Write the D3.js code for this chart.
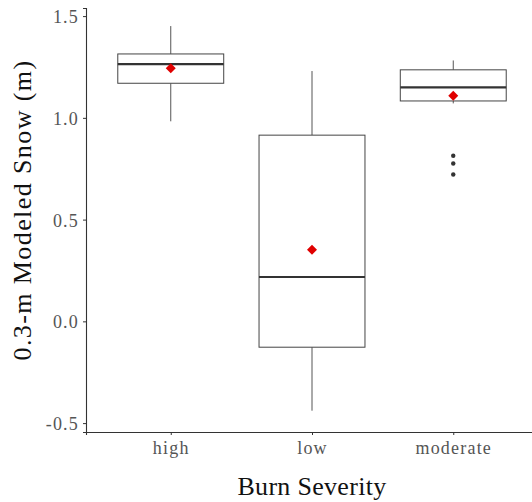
<!DOCTYPE html>
<html>
<head>
<meta charset="utf-8">
<script src="https://cdn.jsdelivr.net/npm/d3@7"></script>
<style>
  body { margin: 0; background: #fff; }
  svg { display: block; }
  .tick text { font-family: "Liberation Serif", serif; font-size: 18px; fill: #555; letter-spacing: 1.2px; }
  .axis-title { font-family: "Liberation Serif", serif; font-size: 26px; fill: #111; }
</style>
</head>
<body>
<script>
const WIDTH = 532;
const HEIGHT = 502;

// Data
const categories = ["high", "low", "moderate"];
const q1 = [1.170, -0.127, 1.083];
const median = [1.264, 0.218, 1.150];
const q3 = [1.314, 0.915, 1.236];
const whiskerLow = [0.983, -0.439, 1.071];
const whiskerHigh = [1.451, 1.230, 1.282];
const means = [1.244, 0.352, 1.109];
const outliers = [[], [], [0.814, 0.776, 0.722]];
const yTicks = [-0.5, 0.0, 0.5, 1.0, 1.5];

const margin = { top: 8, right: -6, bottom: 70, left: 86 };
const width = WIDTH - margin.left - margin.right;
const height = HEIGHT - margin.top - margin.bottom;

const svg = d3.select("body").append("svg")
    .attr("width", WIDTH)
    .attr("height", HEIGHT);

const g = svg.append("g")
    .attr("transform", `translate(${margin.left},${margin.top})`);

const x = d3.scalePoint()
    .domain(categories)
    .range([0, width])
    .padding(0.6);

const y = d3.scaleLinear()
    .domain([-0.5437, 1.5398])
    .range([height, 0]);

const step = x.step();
const BOXW = step * 0.75;

const stats = categories.map((c, i) => ({
    cat: c, q1: q1[i], median: median[i], q3: q3[i],
    lo: whiskerLow[i], hi: whiskerHigh[i], mean: means[i], out: outliers[i]
}));

// Axes
const xAxis = g.append("g")
    .attr("transform", `translate(0,${height})`)
    .call(d3.axisBottom(x).tickSize(3).tickPadding(6));
xAxis.select(".domain").attr("stroke", "#333").attr("stroke-width", 1.1);
xAxis.selectAll(".tick line").attr("stroke", "#333");
xAxis.selectAll(".tick text").attr("y", 22).attr("dy", 0);

const yAxis = g.append("g")
    .call(d3.axisLeft(y).tickValues(yTicks).tickFormat(d => d.toFixed(1)).tickSize(3).tickPadding(4));
yAxis.select(".domain").attr("stroke", "#333").attr("stroke-width", 1.1);
yAxis.selectAll(".tick line").attr("stroke", "#333");
yAxis.selectAll(".tick text").attr("dy", "0.36em");

const boxes = g.selectAll(".boxplot")
    .data(stats)
    .enter().append("g")
    .attr("class", "boxplot")
    .attr("transform", d => `translate(${x(d.cat)},0)`);

// Whiskers
boxes.append("line")
    .attr("y1", d => y(d.q3)).attr("y2", d => y(d.hi))
    .attr("stroke", "#555").attr("stroke-width", 1);
boxes.append("line")
    .attr("y1", d => y(d.q1)).attr("y2", d => y(d.lo))
    .attr("stroke", "#555").attr("stroke-width", 1);

// Box
boxes.append("rect")
    .attr("x", -BOXW / 2)
    .attr("width", BOXW)
    .attr("y", d => y(d.q3))
    .attr("height", d => y(d.q1) - y(d.q3))
    .attr("fill", "#fff")
    .attr("stroke", "#444")
    .attr("stroke-width", 1);

// Median
boxes.append("line")
    .attr("x1", -BOXW / 2).attr("x2", BOXW / 2)
    .attr("y1", d => y(d.median)).attr("y2", d => y(d.median))
    .attr("stroke", "#333").attr("stroke-width", 2.2);

// Outliers
boxes.selectAll(".outlier")
    .data(d => d.out)
    .enter().append("circle")
    .attr("class", "outlier")
    .attr("cx", 0)
    .attr("cy", d => y(d))
    .attr("r", 2.2)
    .attr("fill", "#333");

// Mean diamonds
boxes.append("path")
    .attr("d", d3.symbol(d3.symbolDiamond2, 64))
    .attr("transform", d => `translate(0,${y(d.mean)})`)
    .attr("fill", "#e00000");

// Axis titles
svg.append("text")
    .attr("class", "axis-title")
    .attr("text-anchor", "middle")
    .attr("x", margin.left + width / 2)
    .attr("y", 495)
    .style("letter-spacing", "0.3px")
    .text("Burn Severity");

svg.append("text")
    .attr("class", "axis-title")
    .attr("text-anchor", "middle")
    .attr("transform", `translate(31,${margin.top + height / 2 - 10}) rotate(-90)`)
    .style("letter-spacing", "1.4px")
    .text("0.3-m Modeled Snow (m)");
</script>
</body>
</html>
